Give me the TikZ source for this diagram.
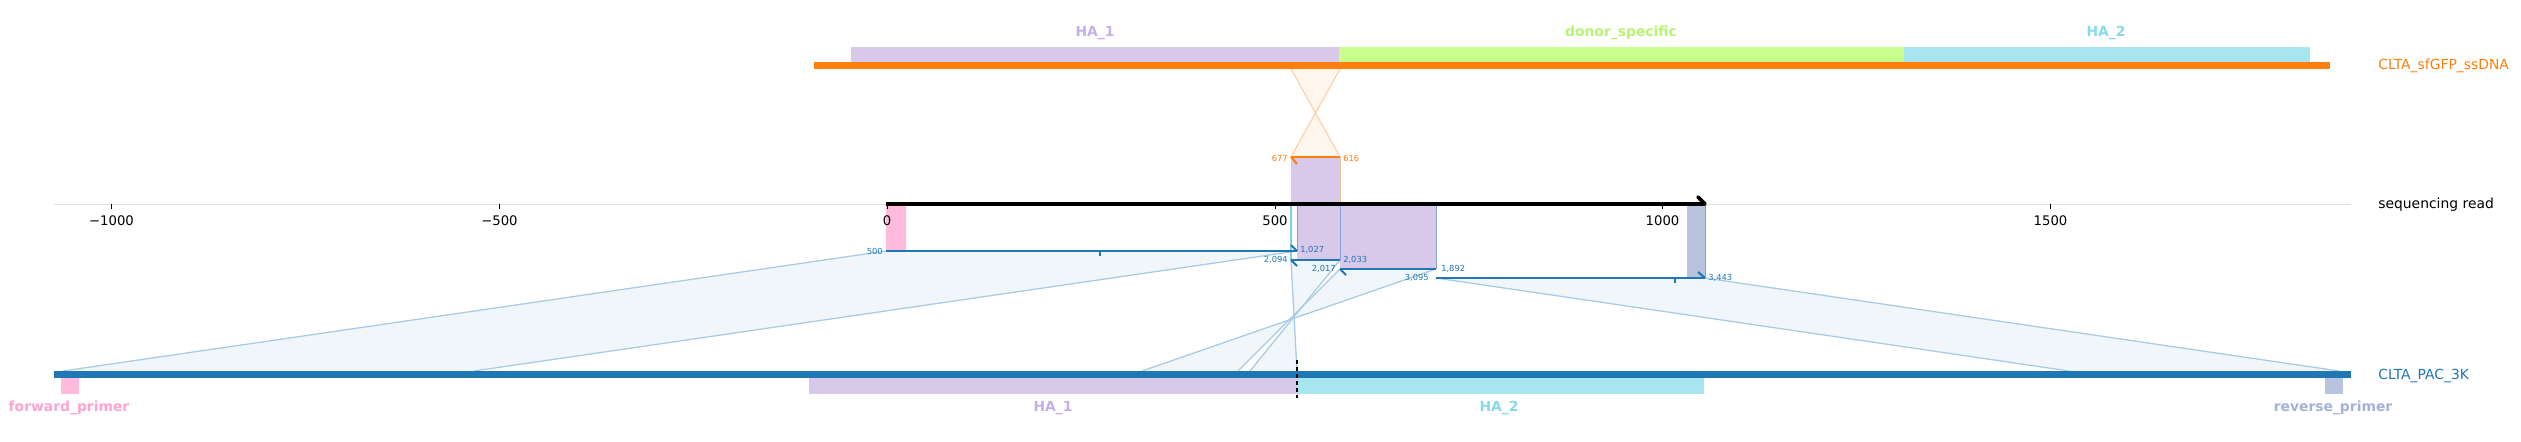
\documentclass[tikz,border=0pt]{standalone}
\usepackage{fontspec}
\setmainfont{DejaVu Sans}
\definecolor{tabblue}{HTML}{1F77B4}
\definecolor{taborange}{HTML}{FF7F0E}
\definecolor{hapurple}{HTML}{D8C8EA}
\definecolor{hapurplet}{HTML}{C5AFE8}
\definecolor{donorgreen}{HTML}{C8FF8C}
\definecolor{donorgreent}{HTML}{B6F472}
\definecolor{hacyan}{HTML}{A8E6EF}
\definecolor{hacyant}{HTML}{88DAE9}
\definecolor{fwdpink}{HTML}{FFBADC}
\definecolor{fwdpinkt}{HTML}{FFA3D3}
\definecolor{revgray}{HTML}{B8C4DD}
\definecolor{revgrayt}{HTML}{A3B2D6}
\definecolor{polyfill}{HTML}{F1F6FA}
\definecolor{polyline}{HTML}{A8CAE2}
\definecolor{opolyfill}{HTML}{FFF6EE}
\definecolor{opolyline}{HTML}{FFCFA3}
\definecolor{axisgray}{HTML}{E0E0E0}
\definecolor{edgeblue}{HTML}{7FA3D6}
\definecolor{edgecyan}{HTML}{7FD0E6}
\definecolor{edgeyellow}{HTML}{D9DC8A}
\definecolor{edgeorange}{HTML}{F6C2A6}
\tikzset{
  featlab/.style={font=\bfseries\fontsize{10}{12}\selectfont, inner sep=0pt},
  ticklab/.style={font=\fontsize{9.5}{11}\selectfont, inner sep=0pt, text=black},
  numlab/.style={font=\fontsize{6}{7}\selectfont, inner sep=0pt},
  seqlab/.style={font=\fontsize{10}{12}\selectfont, inner sep=0pt, anchor=west},
  polyedge/.style={draw=polyline, line width=0.9pt},
  opolyedge/.style={draw=opolyline, line width=0.8pt},
  alnseg/.style={draw=tabblue, line width=2.1pt},
  barb/.style={draw=tabblue, line width=1.5pt},
  axtick/.style={draw=black, line width=0.6pt},
}
\begin{document}
\begin{tikzpicture}[x=0.72pt,y=-0.72pt]
\useasboundingbox (0,0) rectangle (2521,442);
\fill[white] (0,0) rectangle (2521,442);

% ---------- coordinates ----------
% read-side alignment rows
\coordinate (r1a) at (886,251);  \coordinate (r1b) at (1297,251);
\coordinate (r2a) at (1291,260); \coordinate (r2b) at (1340,260);
\coordinate (r3a) at (1340,269); \coordinate (r3b) at (1436,269);
\coordinate (r4a) at (1436,278); \coordinate (r4b) at (1705,278);
% bottom reference positions
\coordinate (b1a) at (63,371);   \coordinate (b1b) at (474,371);
\coordinate (b2a) at (1297,371); \coordinate (b2b) at (1250,371);
\coordinate (b3a) at (1238,371); \coordinate (b3b) at (1142,371);
\coordinate (b4a) at (2069,371); \coordinate (b4b) at (2339,371);
% top donor alignment
\coordinate (t1) at (1291,69);   \coordinate (t2) at (1340,69);
\coordinate (o1) at (1291,157);  \coordinate (o2) at (1340,157);

% ---------- connecting polygons ----------
\fill[polyfill] (r1a) -- (r1b) -- (b1b) -- (b1a) -- cycle;
\fill[polyfill] (r2a) -- (b2a) -- (b2b) -- (r2b) -- cycle;
\fill[polyfill] (r3a) -- (b3a) -- (b3b) -- (r3b) -- cycle;
\fill[polyfill] (r4a) -- (r4b) -- (b4b) -- (b4a) -- cycle;
\draw[polyedge] (r1a) -- (b1a);
\draw[polyedge] (r1b) -- (b1b);
\draw[polyedge] (r2a) -- (b2a);
\draw[polyedge] (r2b) -- (b2b);
\draw[polyedge] (r3a) -- (b3a);
\draw[polyedge] (r3b) -- (b3b);
\draw[polyedge] (r4a) -- (b4a);
\draw[polyedge] (r4b) -- (b4b);

\fill[opolyfill] (t1) -- (o2) -- (o1) -- (t2) -- cycle;
\draw[opolyedge] (t1) -- (o2);
\draw[opolyedge] (t2) -- (o1);

% ---------- feature boxes on the read ----------
\fill[fwdpink] (886,204) rectangle (906,251);
\fill[hapurple] (1291,157) rectangle (1340,204);
\draw[edgeyellow, line width=0.6pt] (1291,157) -- (1291,204);
\draw[edgeorange, line width=0.6pt] (1340,157) -- (1340,204);
\fill[hapurple] (1297,204) rectangle (1340,260);
\draw[edgecyan, line width=0.8pt] (1291,204) -- (1291,260);
\draw[edgeblue, line width=0.6pt] (1297,204) -- (1297,251);
\fill[hapurple] (1340,204) rectangle (1436,269);
\draw[edgeblue, line width=0.7pt] (1340,204) -- (1340,260);
\draw[edgeblue, line width=0.6pt] (1436,204) -- (1436,269);
\fill[revgray] (1687,204) rectangle (1705,278);
\draw[edgeblue, line width=0.7pt] (1705,204) -- (1705,278);

% ---------- top donor reference ----------
\fill[hapurple] (851,47) rectangle (1339,62);
\fill[donorgreen] (1339,47) rectangle (1903.5,62);
\fill[hacyan] (1903.5,47) rectangle (2310,62);
\fill[taborange] (814,62) rectangle (2330,69);
\node[featlab, text=hapurplet] (lhatop1) at (1095,33) {HA\_1};
\node[featlab, text=donorgreent] (ldonor) at (1621,33) {donor\_specific};
\node[featlab, text=hacyant] (lhatop2) at (2106,33) {HA\_2};
\node[seqlab, text=taborange] (ldonorref) at (2378,66) {CLTA\_sfGFP\_ssDNA};

% ---------- donor alignment segment ----------
\draw[draw=taborange, line width=2.1pt] (o1) -- (o2);
\draw[draw=taborange, line width=1.5pt] (o1) -- ++(6,7);
\node[numlab, text=taborange, anchor=east] (n677) at (1288,158) {677};
\node[numlab, text=taborange, anchor=west] (n616) at (1343,158) {616};

% ---------- read axis ----------
\draw[axisgray, line width=0.7pt] (54,204) -- (2351,204);
\foreach \xx/\lab in {111.5/{−1000}, 499.5/{−500}, 887/{0}, 1275/{500}, 1662.5/{1000}, 2050.5/{1500}}{
  \draw[axtick] (\xx,204) -- (\xx,209);
  \node[ticklab] at (\xx,221) {\lab};
}
\draw[black, line width=2.9pt] (886,204) -- (1705,204);
\draw[black, line width=2.6pt, line cap=round] (1705,204) -- (1698,197);
\node[seqlab, text=black] (lread) at (2378,205) {sequencing read};

% ---------- alignment rows ----------
\draw[alnseg] (r1a) -- (r1b);
\draw[barb] (r1b) -- ++(-6,-6);
\draw[tabblue, line width=1.4pt] (1100,251) -- (1100,256);
\draw[alnseg] (r2a) -- (r2b);
\draw[barb] (r2a) -- ++(6,6);
\draw[alnseg] (r3a) -- (r3b);
\draw[barb] (r3a) -- ++(6,6);
\draw[alnseg] (r4a) -- (r4b);
\draw[barb] (r4b) -- ++(-7,-6);
\draw[tabblue, line width=1.4pt] (1675,278) -- (1675,283);

\node[numlab, text=tabblue, anchor=east] (n500) at (883,251) {500};
\node[numlab, text=tabblue, anchor=west] (n1027) at (1300,250) {1,027};
\node[numlab, text=tabblue, anchor=east] (n2094) at (1288,260) {2,094};
\node[numlab, text=tabblue, anchor=west] (n2033) at (1343,260) {2,033};
\node[numlab, text=tabblue, anchor=east] (n2017) at (1336,269) {2,017};
\node[numlab, text=tabblue, anchor=west] (n1892) at (1441,269) {1,892};
\node[numlab, text=tabblue, anchor=east] (n3095) at (1429,278) {3,095};
\node[numlab, text=tabblue, anchor=west] (n3443) at (1708,278) {3,443};

% ---------- bottom reference ----------
\fill[tabblue] (54,371) rectangle (2351,378);
\fill[fwdpink] (61,378) rectangle (79,394);
\fill[hapurple] (809,378) rectangle (1297,394);
\fill[hacyan] (1297,378) rectangle (1704,394);
\fill[revgray] (2325,378) rectangle (2343,394);
\draw[black, line width=1.1pt, dash pattern=on 3pt off 2pt] (1297,360) -- (1297,398);
\node[seqlab, text=tabblue] (lbotref) at (2378,376) {CLTA\_PAC\_3K};
\node[featlab, text=fwdpinkt] (lfwd) at (69,408) {forward\_primer};
\node[featlab, text=hapurplet] (lhabot1) at (1053,408) {HA\_1};
\node[featlab, text=hacyant] (lhabot2) at (1499,408) {HA\_2};
\node[featlab, text=revgrayt] (lrev) at (2333,408) {reverse\_primer};
\end{tikzpicture}
\end{document}
